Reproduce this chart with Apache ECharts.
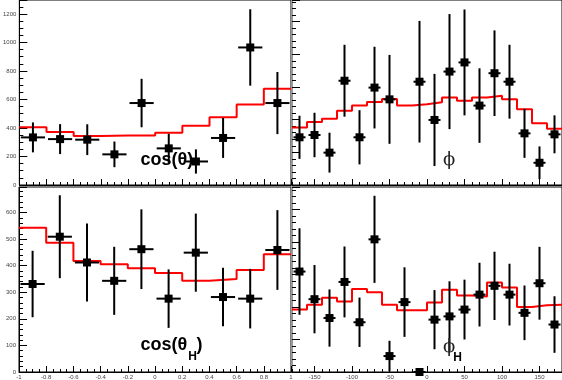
<!DOCTYPE html>
<html>
<head>
<meta charset="utf-8">
<script src="https://cdn.jsdelivr.net/npm/echarts@6/dist/echarts.min.js"></script>
<style>html,body{margin:0;padding:0;background:#fff}#c{width:562px;height:380px}</style>
</head>
<body>
<div id="c"></div>
<script>
// ---- data ----
var cosCenters = [-0.9,-0.7,-0.5,-0.3,-0.1,0.1,0.3,0.5,0.7,0.9];
var cosEdges = [-1,-0.8,-0.6,-0.4,-0.2,0,0.2,0.4,0.6,0.8,1];
var phiCenters = [-170,-150,-130,-110,-90,-70,-50,-30,-10,10,30,50,70,90,110,130,150,170];
var phiEdges = [-180,-160,-140,-120,-100,-80,-60,-40,-20,0,20,40,60,80,100,120,140,160,180];
var phiTickValues = [-150,-100,-50,0,50,100,150];

var cosThetaData = [334,322,318,215,575,257,165,330,965,575];
var cosThetaErr  = [105,105,108,90,170,103,85,140,268,218];
var cosThetaMC   = [405,372,344,348,348,367,416,475,564,676];

var phiData = [146,153,99,319,146,298,262,null,316,199,347,375,243,342,316,158,68,155];
var phiErr  = [66,68,61,110,83,125,136,null,186,141,176,162,114,131,113,75,50,58];
var phiMC   = [176,193,203,227,243,254,263,243,247,253,268,258,268,273,262,232,189,172];

var cosThetaHData = [331,509,412,343,462,276,449,282,276,459];
var cosThetaHErr  = [125,156,147,128,150,110,147,110,112,150];
var cosThetaHMC   = [543,486,418,405,390,372,343,350,384,443];

var phiHData = [309,224,166,277,153,408,49,215,0,161,171,192,238,265,238,182,273,146];
var phiHErr  = [133,105,88,109,76,134,47,107,0,91,108,92,98,105,95,84,112,87];
var phiHMC   = [192,207,228,217,255,245,207,190,190,214,253,235,232,275,260,200,205,207];

// ---- helpers ----
function pts(centers, vals, errs, half) {
  var out = [];
  for (var i = 0; i < centers.length; i++) {
    if (vals[i] === null) continue;
    out.push([centers[i], vals[i], errs[i], half]);
  }
  return out;
}
function steps(edges, vals) {
  var out = [];
  for (var i = 0; i < vals.length; i++) out.push([edges[i], vals[i]]);
  out.push([edges[edges.length-1], vals[vals.length-1]]);
  return out;
}
function renderErr(params, api) {
  var x = api.value(0), y = api.value(1), e = api.value(2), h = api.value(3);
  var c = api.coord([x, y]);
  var t = api.coord([x, y + e]);
  var b = api.coord([x, Math.max(0, y - e)]);
  var l = api.coord([x - h, y]);
  var r = api.coord([x + h, y]);
  var ch = [
    {type:'line', shape:{x1:l[0]+1.5, y1:c[1], x2:r[0]-1.5, y2:c[1]}, style:{stroke:'#000', lineWidth:2}},
    {type:'rect', shape:{x:c[0]-4, y:c[1]-4, width:8, height:8}, style:{fill:'#000'}}
  ];
  if (e > 0) ch.unshift({type:'line', shape:{x1:c[0], y1:t[1], x2:c[0], y2:b[1]}, style:{stroke:'#000', lineWidth:2}});
  return {type:'group', children: ch};
}
var labelFont = {fontFamily:'Liberation Sans', fontSize:6, color:'#444'};
function cosFmt(v) { return String(Math.round(v*10)/10); }
function intFmt(v) { return String(Math.round(v)); }

function cosX(idx, showLabels) {
  return {
    type:'value', gridIndex:idx, min:-1, max:1, interval:0.2,
    axisLine:{show:true, onZero:false, lineStyle:{color:'#000', width:1}},
    axisTick:{show:true, inside:true, length:6, lineStyle:{color:'#000', width:1}},
    minorTick:{show:true, splitNumber:4, length:3, lineStyle:{color:'#000', width:1}},
    splitLine:{show:false},
    axisLabel:Object.assign({show:showLabels, margin:2, showMinLabel:true, showMaxLabel:true, formatter:cosFmt}, labelFont)
  };
}
function phiXMinor(idx) {
  return {
    type:'value', gridIndex:idx, min:-180, max:180, interval:10,
    axisLine:{show:true, onZero:false, lineStyle:{color:'#000', width:1}},
    axisTick:{show:true, inside:true, length:3, lineStyle:{color:'#000', width:1}},
    splitLine:{show:false}, axisLabel:{show:false}
  };
}
function phiXMajor(idx, showLabels) {
  return {
    type:'value', gridIndex:idx, min:-180, max:180, position:'bottom',
    axisLine:{show:false, onZero:false},
    axisTick:{show:true, inside:true, length:6, customValues:phiTickValues, lineStyle:{color:'#000', width:1}},
    splitLine:{show:false},
    axisLabel:Object.assign({show:showLabels, margin:2, customValues:phiTickValues, formatter:intFmt}, labelFont)
  };
}
function yAxisCfg(idx, max, interval, minor, showLabels, color, width) {
  return {
    type:'value', gridIndex:idx, min:0, max:max, interval:interval,
    axisLine:{show:true, onZero:false, lineStyle:{color:color, width:width}},
    axisTick:{show:true, inside:true, length:8, lineStyle:{color:'#000', width:1}},
    minorTick:{show:true, splitNumber:minor, length:4, lineStyle:{color:'#000', width:1}},
    splitLine:{show:false},
    axisLabel:Object.assign({show:showLabels, margin:3, showMaxLabel:false, formatter:intFmt}, labelFont)
  };
}

var grids = [
  {left:19, top:0, width:272, height:185},
  {left:292, top:0, width:271, height:185},
  {left:19, top:187, width:272, height:186},
  {left:292, top:187, width:271, height:186}
];
grids.forEach(function(g){ g.show = true; g.borderColor = '#000'; g.borderWidth = 1; g.backgroundColor = 'transparent'; g.containLabel = false; });

var series = [];
function addPanel(xi, yi, edges, centers, data, errs, mc, half) {
  series.push({type:'line', xAxisIndex:xi, yAxisIndex:yi, data:steps(edges, mc), step:'end',
    symbol:'none', lineStyle:{color:'#ff0000', width:2}, z:2, animation:false, silent:true});
  series.push({type:'custom', xAxisIndex:xi, yAxisIndex:yi, data:pts(centers, data, errs, half),
    renderItem:renderErr, z:3, animation:false, silent:true, clip:false});
}
addPanel(0, 0, cosEdges, cosCenters, cosThetaData, cosThetaErr, cosThetaMC, 0.1);
addPanel(1, 1, phiEdges, phiCenters, phiData, phiErr, phiMC, 10);
addPanel(2, 2, cosEdges, cosCenters, cosThetaHData, cosThetaHErr, cosThetaHMC, 0.1);
addPanel(3, 3, phiEdges, phiCenters, phiHData, phiHErr, phiHMC, 10);

var mctx = document.createElement('canvas').getContext('2d');
function tw(txt, font) { mctx.font = font; return mctx.measureText(txt).width; }
var bigFont = 'bold 18px "Liberation Sans"';
var subFont = 'bold 12px "Liberation Sans"';
var cx = 140.5;
var w1 = tw('cos(\u03b8', bigFont);
var wH = tw('H', subFont);

var graphics = [
  {type:'text', x:140.5, y:160, style:{text:'cos(\u03b8)', font:bigFont, fill:'#000', verticalAlign:'middle'}, z:10},
  {type:'text', x:cx, y:345, style:{text:'cos(\u03b8', font:bigFont, fill:'#000', verticalAlign:'middle'}, z:10},
  {type:'text', x:cx + w1 + 1, y:356.5, style:{text:'H', font:subFont, fill:'#000', verticalAlign:'middle'}, z:10},
  {type:'text', x:cx + w1 + wH + 0.5, y:345, style:{text:')', font:bigFont, fill:'#000', verticalAlign:'middle'}, z:10},
  {type:'text', x:443, y:160, style:{text:'\u03d5', font:'18px "DejaVu Serif"', fill:'#222', verticalAlign:'middle'}, z:10},
  {type:'text', x:443, y:347, style:{text:'\u03d5', font:'18px "DejaVu Serif"', fill:'#222', verticalAlign:'middle'}, z:10},
  {type:'text', x:453.3, y:357.5, style:{text:'H', font:subFont, fill:'#000', verticalAlign:'middle'}, z:10}
];

var chart = echarts.init(document.getElementById('c'), null, {renderer:'canvas'});
chart.setOption({
  animation:false,
  backgroundColor:'#fff',
  grid:grids,
  xAxis:[
    cosX(0, false),
    phiXMinor(1),
    cosX(2, true),
    phiXMinor(3),
    phiXMajor(1, false),
    phiXMajor(3, true)
  ],
  yAxis:[
    yAxisCfg(0, 1298, 200, 4, true, '#000', 1),
    yAxisCfg(1, 566, 100, 5, false, '#999', 2),
    yAxisCfg(2, 696, 100, 5, true, '#000', 1),
    yAxisCfg(3, 569, 100, 5, false, '#999', 2)
  ],
  series:series,
  graphic:graphics
});
</script>
</body>
</html>
